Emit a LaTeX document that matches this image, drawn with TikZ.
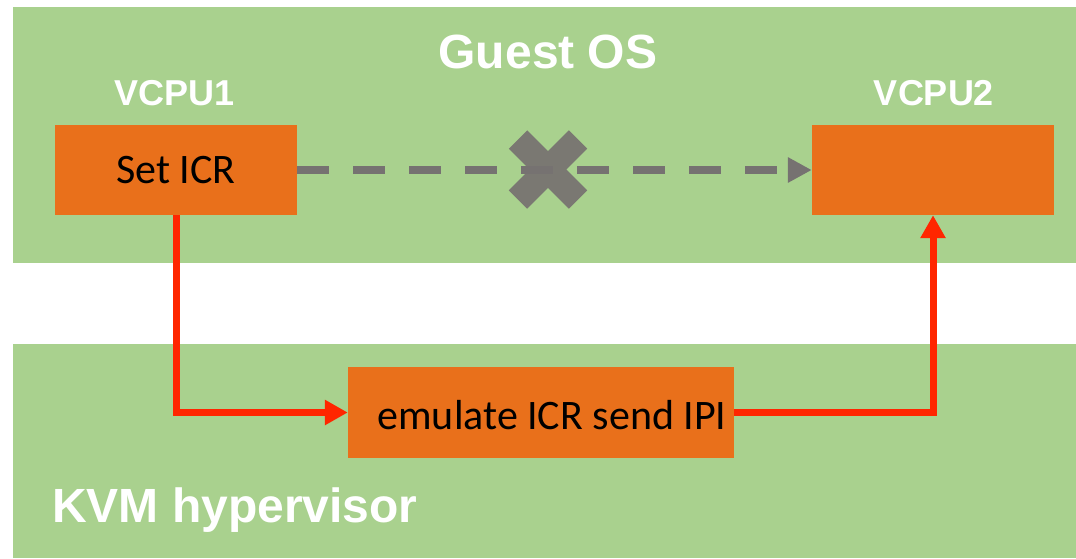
\documentclass[tikz,border=0pt]{standalone}
\usepackage{fontspec}
\setmainfont{Carlito}
\newfontfamily\labelfont{Liberation Sans}
\usetikzlibrary{arrows.meta}
\definecolor{bandgreen}{RGB}{169,209,142}
\definecolor{boxorange}{RGB}{233,112,27}
\definecolor{flowred}{RGB}{255,38,0}
\definecolor{dashgray}{RGB}{118,114,113}
\definecolor{crossgray}{RGB}{122,120,114}
\tikzset{
  band/.style={fill=bandgreen, draw=none},
  cpubox/.style={fill=boxorange, draw=none, inner sep=0pt, text=black, font=\fontsize{42}{46}\selectfont},
  bandlabel/.style={text=white, font=\labelfont\bfseries\fontsize{48}{54}\selectfont, inner sep=0pt},
  cpulabel/.style={text=white, font=\labelfont\bfseries\fontsize{36}{40}\selectfont, inner sep=0pt},
  flow/.style={draw=flowred, line width=7pt, -{Triangle[length=23pt,width=24pt]}},
  blocked/.style={draw=dashgray, line width=8pt, dash pattern=on 32pt off 24pt, -{Triangle[length=24pt,width=24pt]}},
}
\begin{document}
\begin{tikzpicture}[x=1pt,y=-1pt]
  \useasboundingbox (0,0) rectangle (1076,558);
  % layers
  \fill[band] (13,7) rectangle (1076,263);
  \fill[band] (13,344) rectangle (1076,558);
  \node[bandlabel] (guest) at (548,52) {Guest OS};
  \node[bandlabel, anchor=west] (kvm) at (52,510) {KVM hypervisor};
  % vcpus
  \node[cpulabel] (l1) at (175,93) {VCPU1};
  \node[cpulabel] (l2) at (934,93) {VCPU2};
  \node[cpubox, minimum width=242pt, minimum height=90pt] (sicr) at (176,170) {Set ICR};
  \node[cpubox, minimum width=242pt, minimum height=90pt] (vcpu2) at (933,170) {};
  \node[cpubox, minimum width=386pt, minimum height=91pt] (emu) at (541,412.5) {};
  \node[text=black, font=\fontsize{42}{46}\selectfont, inner sep=0pt] (emutext) at (552,415.5) {emulate ICR send IPI};
  % direct path that is not taken
  \draw[crossgray, line width=26pt] (518,139.5) -- (578,199.5);
  \draw[crossgray, line width=26pt] (578,139.5) -- (518,199.5);
  \draw[blocked] (sicr.east) -- (vcpu2.west);
  % path through the hypervisor
  \draw[flow] (sicr.south) |- (emu.west);
  \draw[flow] (emu.east) -| (vcpu2.south);
\end{tikzpicture}
\end{document}
